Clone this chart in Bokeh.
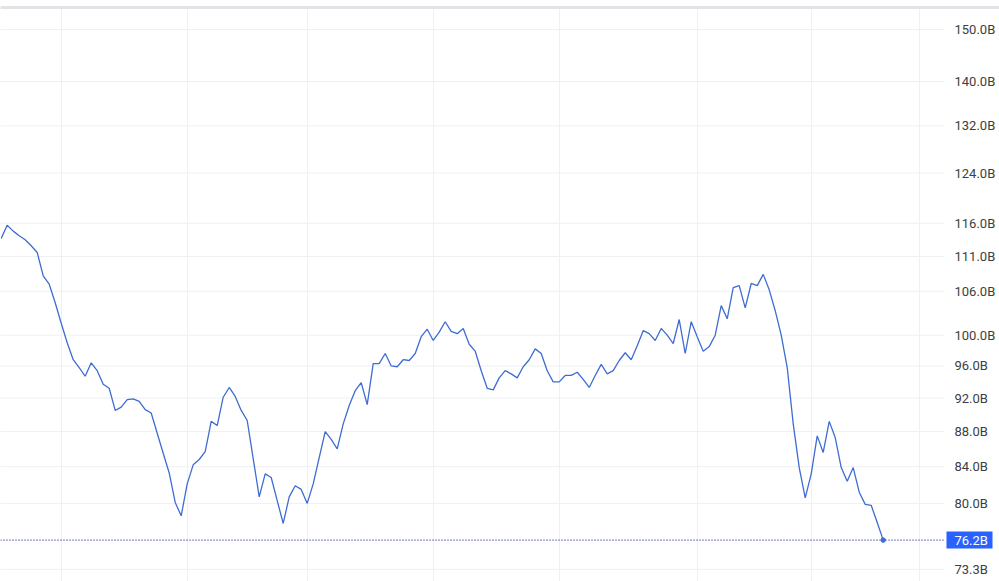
from bokeh.plotting import figure
from bokeh.models import Range1d, FixedTicker, Grid, LinearAxis
from bokeh.core.properties import value
from bokeh.embed import file_html
from bokeh.resources import INLINE

# Weekly values (billions)
values_b = [113.7, 115.7, 114.8, 114.1, 113.5, 112.6, 111.6, 108.2, 107.0, 104.4,
            101.6, 99.0, 96.8, 95.8, 94.7, 96.4, 95.4, 93.7, 93.2, 90.5,
            90.9, 91.8, 91.9, 91.6, 90.6, 90.2, 87.8, 85.5, 83.3, 80.1,
            78.7, 82.1, 84.2, 84.8, 85.7, 89.2, 88.7, 92.1, 93.3, 92.2,
            90.5, 89.3, 84.9, 80.7, 83.2, 82.8, 80.3, 77.9, 80.7, 81.9,
            81.5, 80.0, 82.1, 85.0, 88.0, 87.1, 86.0, 88.9, 91.1, 92.9,
            93.9, 91.2, 96.3, 96.3, 97.6, 96.0, 95.9, 96.8, 96.7, 97.6,
            99.8, 100.8, 99.3, 100.4, 101.8, 100.5, 100.2, 100.9, 98.8, 97.9,
            95.4, 93.2, 93.0, 94.5, 95.4, 95.0, 94.5, 95.9, 96.8, 98.2,
            97.6, 95.4, 94.0, 94.0, 94.8, 94.8, 95.2, 94.3, 93.3, 94.8,
            96.2, 95.0, 95.4, 96.7, 97.7, 96.8, 98.6, 100.6, 100.2, 99.3,
            100.9, 100.0, 98.9, 102.1, 97.6, 101.8, 99.8, 97.9, 98.5, 100.0,
            104.0, 102.2, 106.5, 106.8, 103.7, 107.1, 106.8, 108.4, 106.2, 103.3,
            100.0, 95.8, 88.9, 83.9, 80.6, 83.2, 87.5, 85.6, 89.2, 87.3,
            83.9, 82.4, 83.9, 81.2, 79.9, 79.8, 78.0, 76.2]

y_ticks = [73.3, 80.0, 84.0, 88.0, 92.0, 96.0, 100.0, 106.0, 111.0, 116.0,
           124.0, 132.0, 140.0, 150.0]
y_tick_labels = [f"{t:.1f}B" for t in y_ticks]

# period boundaries (vertical grid lines), in week-index units
x_grid_marks = [10.1, 31.1, 51.1, 72.1, 93.1, 116.1, 135.1, 153.05]

weeks = list(range(len(values_b)))
last_week = weeks[-1]
last_value = values_b[-1]

# layout of the right-hand price scale, in week-index units
X_START, X_END = -0.1167, 166.38
PLOT_END = 157.2        # where the plotting area stops and the scale begins
LABEL_X = 158.88        # left edge of the scale labels
BADGE_X = 161.38        # centre of the last-value badge
BADGE_W = 7.67

LINE = "#3f6cd2"
GRID = "#eef0f3"
LABEL_C = "#3c4043"
BADGE_C = "#2962ff"

p = figure(width=999, height=581,
           y_axis_type="log", x_axis_location=None, y_axis_location=None,
           x_range=Range1d(X_START, X_END), y_range=Range1d(72.13, 154.44),
           output_backend="svg", toolbar_location=None,
           min_border_left=0, min_border_right=0, min_border_top=7, min_border_bottom=0)
p.outline_line_color = None
p.background_fill_color = "white"
p.border_fill_color = "white"

# remove default grids, add our own
p.center = [r for r in p.center if not isinstance(r, Grid)]
p.add_layout(Grid(dimension=0, ticker=FixedTicker(ticks=x_grid_marks),
                  grid_line_color=GRID, grid_line_width=1))

# thin grey band on top
top = LinearAxis(ticker=FixedTicker(ticks=[]), axis_line_color="#e1e3e7",
                 axis_line_width=3, major_tick_line_color=None,
                 minor_tick_line_color=None, major_tick_out=0, minor_tick_out=0,
                 major_tick_in=0, minor_tick_in=0)
p.add_layout(top, "above")

# horizontal grid lines, stopping at the price scale
n = len(y_ticks)
p.segment(x0=[X_START] * n, y0=y_ticks, x1=[PLOT_END] * n, y1=y_ticks,
          line_color=GRID, line_width=1)

# price-scale labels
p.text(x=[LABEL_X] * n, y=y_ticks, text=y_tick_labels,
       text_font=value("Roboto"), text_font_size="13px", text_color=LABEL_C,
       text_align="left", text_baseline="middle")

# series
p.line(weeks, values_b, line_color=LINE, line_width=1.3)

# last value marker, dotted line and badge
p.segment(x0=[X_START], y0=[last_value], x1=[PLOT_END], y1=[last_value],
          line_color="#27329a", line_dash="1 2", line_width=1.2)
p.scatter([last_week], [last_value], size=4.5, color=LINE)
p.rect(x=[BADGE_X], y=[last_value], width=BADGE_W, height=17, height_units="screen",
       fill_color=BADGE_C, line_color=None)
p.text(x=[LABEL_X], y=[last_value], text=[f"{last_value:.1f}B"],
       text_font=value("Roboto"), text_font_size="13px", text_color="white",
       text_align="left", text_baseline="middle")

open("out.html", "w").write(file_html(p, INLINE))
